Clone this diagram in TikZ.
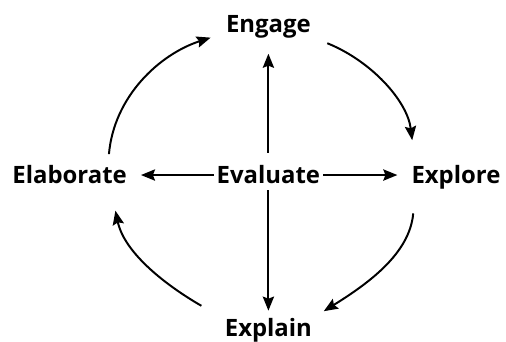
\documentclass[tikz,border=0pt]{standalone}
\usepackage{fontspec}
\setmainfont{Open Sans}
\usepackage{tikz}
\usetikzlibrary{arrows.meta}
\usetikzlibrary{positioning}
\tikzset{
    phase/.style={font=\bfseries\fontsize{17}{20}\selectfont, inner sep=0pt, anchor=base},
    >={Stealth[length=10pt,width=8pt,inset=1.5pt]}
}

\begin{document}
\begin{tikzpicture}[line width=1.4pt]
            \useasboundingbox (0,0) rectangle (12.65,8.55);
            \node [phase] (engage) at (6.71, 7.725) {Engage};
            \node [phase] (evaluate) at (6.71, 3.95) {Evaluate};
            \node [phase] (elaborate) at (1.74, 3.95) {Elaborate};
            \node [phase] (explore) at (11.4, 3.95) {Explore};
            \node [phase] (explain) at (6.71, 0.125) {Explain};
            \draw [->, shorten <=0.3cm, shorten >=0.35cm] (evaluate.north) -- (engage.south);
            \draw [->, shorten <=0.12cm, shorten >=0.18cm] (evaluate.south) -- (explain.north);
            \draw [->, shorten <=0.05cm, shorten >=0.33cm] (evaluate.west) -- (evaluate.west -| elaborate.east);
            \draw [->, shorten <=0.05cm, shorten >=0.33cm] (evaluate.east) -- (evaluate.east -| explore.west);
            \draw [->, shorten <=0.27cm, shorten >=0.38cm] ([xshift=0.96cm]elaborate.north) to [out=85, in=198] ([yshift=-0.14cm]engage.west);
            \draw [->, shorten <=0.42cm, shorten >=0.62cm] ([yshift=-0.24cm]engage.east) to [out=-22, in=97] ([xshift=-1.02cm]explore.north);
            \draw [->, shorten <=0.57cm, shorten >=0.32cm] ([xshift=-1.02cm]explore.south) to [out=-95, in=32] ([yshift=0.32cm]explain.east);
            \draw [->, shorten <=0.65cm, shorten >=0.65cm] ([yshift=0.3cm]explain.west) to [out=150, in=-78] ([xshift=1.01cm]elaborate.south);
        \end{tikzpicture}
\end{document}
